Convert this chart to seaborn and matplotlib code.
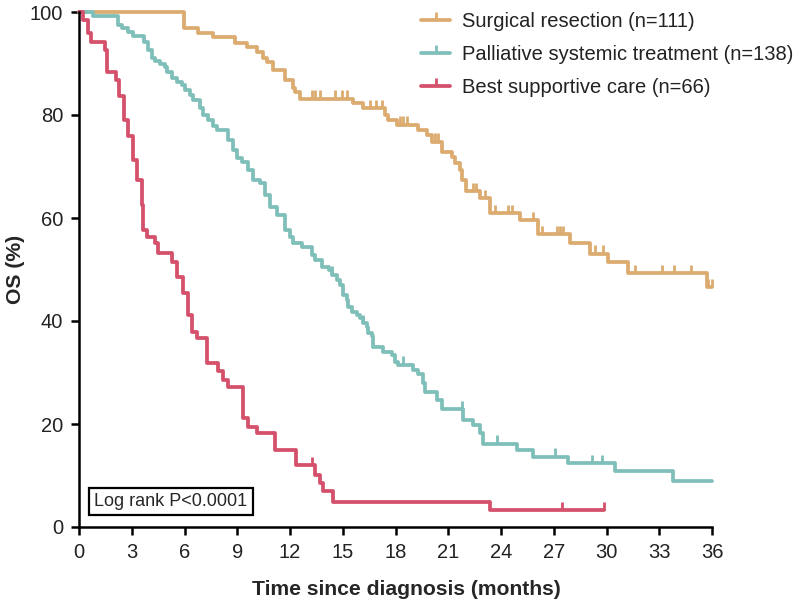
import numpy as np
import pandas as pd
import matplotlib
matplotlib.use("Agg")
import matplotlib.pyplot as plt
import seaborn as sns
from matplotlib.lines import Line2D

# ---------------- data ----------------
groups = ["Surgical resection (n=111)",
          "Palliative systemic treatment (n=138)",
          "Best supportive care (n=66)"]
colors = ["#DCAB70", "#7FBFB9", "#D4506B"]

# Surgical resection: step times (months) and survival (%) after each step
surg_t = [0, 5.99, 6.79, 7.64, 8.87, 9.54, 10.11, 10.48, 10.68, 11.05, 11.72, 12.19,
          12.29, 12.57, 15.60, 16.17, 17.41, 17.59, 18.07, 19.30, 19.78, 20.06, 20.63,
          21.20, 21.39, 21.67, 21.77, 22.00, 22.81, 23.38, 25.09, 26.13, 27.93, 29.07,
          30.11, 31.25, 35.70, 36.0]
surg_s = [100, 96.8, 96.0, 95.1, 94.0, 93.3, 92.3, 91.0, 90.3, 88.7, 86.8, 85.2,
          84.5, 83.2, 82.3, 81.3, 80.0, 79.0, 78.1, 77.1, 76.1, 74.8, 72.9,
          71.9, 70.6, 69.3, 67.4, 65.2, 63.9, 61.0, 59.6, 56.9, 55.1, 53.1,
          51.5, 49.3, 46.6, 46.6]
surg_c = [13.24, 13.42, 13.71, 14.56, 14.94, 15.23, 16.55, 16.89, 17.22, 18.26, 18.45,
          18.64, 20.25, 20.44, 22.43, 22.60, 23.10, 23.66, 24.42, 24.61, 25.84, 26.32,
          27.20, 27.35, 27.50, 29.35, 29.82, 31.63, 33.15, 33.86, 34.79, 35.80, 36.0]

# Palliative systemic treatment
pal_t = [0, 0.81, 2.24, 2.43, 2.81, 3.09, 3.70, 3.94, 4.14, 4.32, 4.61, 4.89, 4.99,
         5.27, 5.56, 5.84, 6.03, 6.31, 6.50, 6.88, 7.07, 7.36, 7.64, 7.83, 8.49, 8.78,
         8.97, 9.25, 9.63, 9.92, 10.30, 10.58, 10.86, 11.25, 11.72, 12.00, 12.19, 12.70,
         13.24, 13.42, 13.81, 14.20, 14.37, 14.66, 14.85, 15.03, 15.23, 15.32, 15.51,
         15.80, 15.98, 16.17, 16.37, 16.46, 16.65, 16.74, 17.31, 17.79, 17.97, 18.16,
         19.02, 19.30, 19.58, 19.68, 20.35, 20.63, 21.86, 22.43, 22.81, 23.00, 24.90,
         25.84, 27.83, 30.49, 33.77, 36.0]
pal_s = [100, 99.3, 97.5, 96.8, 96.2, 95.3, 94.2, 92.6, 91.0, 90.4, 89.9, 89.4, 88.4,
         87.1, 86.5, 85.8, 84.9, 83.9, 82.9, 81.3, 80.0, 79.0, 77.9, 77.1, 75.1, 73.2,
         71.6, 70.9, 69.3, 67.4, 66.7, 64.5, 62.1, 60.6, 57.7, 56.4, 55.1, 54.4,
         52.8, 51.8, 50.5, 49.9, 49.0, 48.0, 47.0, 45.0, 44.0, 42.8, 41.8,
         41.2, 40.6, 39.6, 38.9, 37.7, 37.0, 35.0, 34.0, 33.4, 32.1, 31.5,
         30.5, 29.8, 27.9, 26.3, 24.7, 22.9, 20.8, 19.8, 18.2, 16.2, 15.0,
         13.65, 12.4, 10.9, 9.0, 9.0]
pal_c = [14.37, 16.17, 18.45, 21.77, 23.76, 27.08, 29.16, 29.73]

# Best supportive care
bsc_t = [0, 0.25, 0.53, 0.66, 1.48, 1.61, 2.10, 2.26, 2.56, 2.80, 3.05, 3.32, 3.56,
         3.66, 3.85, 4.32, 4.51, 5.27, 5.56, 5.90, 6.22, 6.41, 6.69, 7.26, 7.92, 8.21,
         8.49, 9.31, 9.63, 10.11, 11.15, 12.34, 13.42, 13.71, 13.90, 14.47, 23.38, 29.86]
bsc_s = [100, 98.4, 95.9, 94.2, 92.6, 88.4, 86.8, 83.6, 79.0, 76.0, 71.3, 67.4, 62.5,
         57.7, 56.4, 55.1, 53.2, 51.5, 48.6, 45.4, 41.2, 37.9, 36.7, 31.8, 30.2, 28.5,
         27.2, 21.2, 19.5, 18.2, 15.0, 12.0, 10.1, 8.5, 6.9, 4.9, 3.3, 3.3]
bsc_c = [13.24, 27.45, 29.86]

# ---------------- build tables ----------------
steps = [(surg_t, surg_s), (pal_t, pal_s), (bsc_t, bsc_s)]
cens = [surg_c, pal_c, bsc_c]

rows = []
for g, (t, s) in zip(groups, steps):
    for ti, si in zip(t, s):
        rows.append((g, ti, si))
df = pd.DataFrame(rows, columns=["group", "time", "surv"])

crow = []
for g, (t, s), c in zip(groups, steps, cens):
    idx = np.searchsorted(np.asarray(t), np.asarray(c), side="right") - 1
    for ci, si in zip(c, np.asarray(s)[idx]):
        crow.append((g, ci, si))
cdf = pd.DataFrame(crow, columns=["group", "time", "surv"])

# ---------------- plot ----------------
sns.set_style("ticks")
plt.rcParams["font.family"] = ["Liberation Sans", "DejaVu Sans"]

W, H = 805, 600
fig = plt.figure(figsize=(W / 100, H / 100), dpi=100)
ax = fig.add_axes([79 / W, 1 - 527 / H, (712 - 79) / W, (527 - 12) / H])

sns.lineplot(data=df, x="time", y="surv", hue="group", hue_order=groups,
             palette=colors, drawstyle="steps-post", estimator=None,
             linewidth=2.7, legend=False, ax=ax, clip_on=False)
sns.scatterplot(data=cdf, x="time", y="surv", hue="group", hue_order=groups,
                palette=colors, marker=2, s=36, linewidth=2.0, legend=False,
                ax=ax, clip_on=False, zorder=3)

ax.set_xlim(0, 36)
ax.set_ylim(0, 100)
ax.set_xticks(range(0, 37, 3))
ax.set_yticks(range(0, 101, 20))
ax.tick_params(axis="both", direction="out", length=5.5, width=1.8,
               labelsize=14.5, pad=6, color="black", labelcolor="#222222")
for sp in ["left", "bottom"]:
    ax.spines[sp].set_linewidth(1.8)
    ax.spines[sp].set_color("black")
sns.despine(ax=ax)

ax.set_xlabel("Time since diagnosis (months)", fontsize=15.2, fontweight="bold")
ax.set_ylabel("OS (%)", fontsize=15.2, fontweight="bold")
ax.xaxis.set_label_coords((406 - 79) / 633, (527 - 580) / 515)
ax.yaxis.set_label_coords((25 - 79) / 633, 0.5)

handles = [Line2D([], [], color=c, lw=2.7, marker=2, markersize=6,
                  markeredgewidth=2.0) for c in colors]
fig.legend(handles, groups, loc="upper left", bbox_to_anchor=(421 / W, 1 - 12 / H),
           frameon=False, fontsize=14.5, handlelength=1.45, handletextpad=0.6,
           labelspacing=0.7, borderpad=0, borderaxespad=0, labelcolor="#222222")

ax.text((94 - 79) / 633, (527 - 501.5) / 515, "Log rank P<0.0001",
        transform=ax.transAxes, ha="left", va="center", fontsize=13,
        bbox=dict(boxstyle="square,pad=0.3", fc="white", ec="black", lw=1.6))

fig.savefig("out.png", dpi=100)
